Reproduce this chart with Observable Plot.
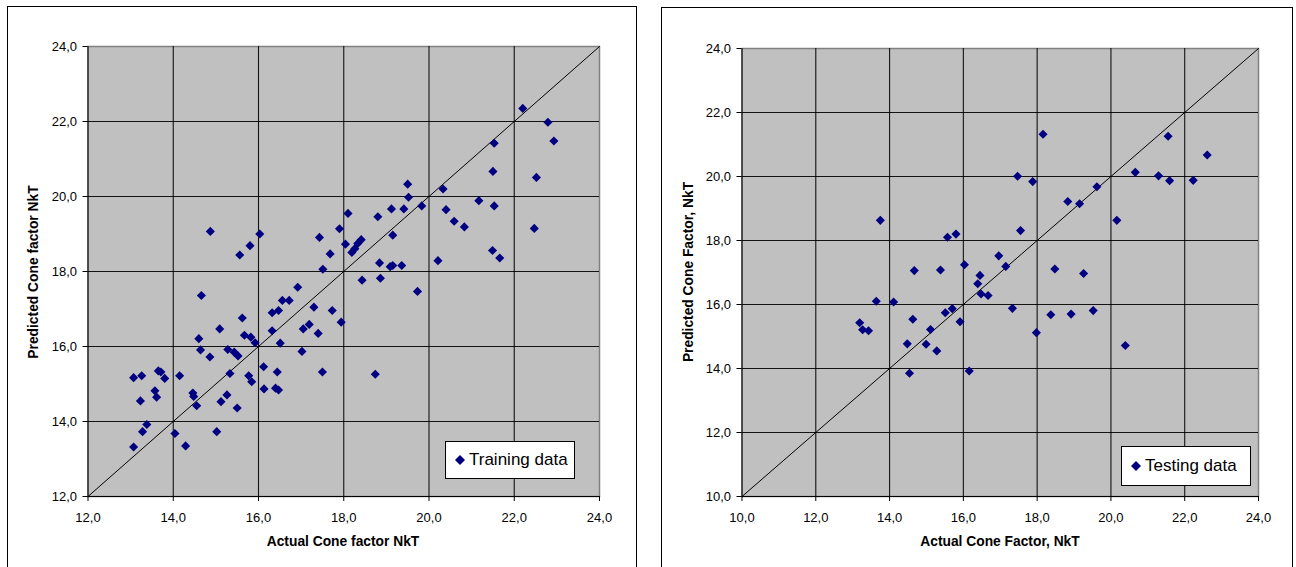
<!DOCTYPE html>
<html>
<head>
<meta charset="utf-8">
<script src="https://cdn.jsdelivr.net/npm/d3@7"></script>
<script src="https://cdn.jsdelivr.net/npm/@observablehq/plot@0.6"></script>
<style>
  html, body { margin: 0; padding: 0; background: #fff; }
  #root { position: relative; width: 1296px; height: 567px; overflow: hidden; background: #fff;
          font-family: "Liberation Sans", Arial, sans-serif; color: #000; }
  .frame { position: absolute; border: 1px solid #000; box-sizing: border-box; }
  .chart { position: absolute; top: 0; }
  .xtitle, .ytitle { position: absolute; font-weight: bold; font-size: 13.8px; white-space: nowrap; }
  .xtitle { transform: translate(-50%, -50%); }
  .ytitle { transform: translate(-50%, -50%) rotate(-90deg); }
  .legend { position: absolute; background: #fff; border: 1px solid #000; box-sizing: border-box;
            font-size: 17px; display: flex; align-items: center; }
  .legend svg { margin-left: 9px; margin-right: 4px; }
</style>
</head>
<body>
<div id="root">
  <div class="frame" style="left:7px; top:6px; width:630px; height:620px;"></div>
  <div class="frame" style="left:661px; top:7px; width:632px; height:620px;"></div>
  <div id="left" class="chart" style="left:0px;"></div>
  <div id="right" class="chart" style="left:648px;"></div>
  <div class="xtitle" style="left:343px; top:541px;">Actual Cone factor NkT</div>
  <div class="ytitle" style="left:33px; top:272px;">Predicted Cone factor NkT</div>
  <div class="xtitle" style="left:1000px; top:541px;">Actual Cone Factor, NkT</div>
  <div class="ytitle" style="left:688px; top:272px;">Predicted Cone Factor, NkT</div>
  <div class="legend" style="left:445px; top:441px; width:130px; height:38px;">
    <svg width="10" height="10"><polygon points="5,0 10,5 5,10 0,5" fill="#000080"/></svg><span>Training data</span>
  </div>
  <div class="legend" style="left:1121px; top:446px; width:130px; height:40px;">
    <svg width="10" height="10"><polygon points="5,0 10,5 5,10 0,5" fill="#000080"/></svg><span>Testing data</span>
  </div>
</div>
<script>
// ---- Training data (actual, predicted) ----
const trainActual = [
  13.07, 13.07, 13.26, 13.23, 13.28, 13.38, 13.57, 13.61, 13.65, 13.71,
  13.80, 14.04, 14.15, 14.29, 14.46, 14.48, 14.55, 14.60, 14.64, 14.66,
  14.86, 14.87, 15.02, 15.09, 15.12, 15.26, 15.28, 15.33, 15.43, 15.50,
  15.52, 15.56, 15.62, 15.67, 15.77, 15.80, 15.82, 15.84, 15.92, 16.03,
  16.12, 16.13, 16.32, 16.32, 16.40, 16.44, 16.47, 16.47, 16.51, 16.56,
  16.72, 16.92, 17.02, 17.05, 17.19, 17.30, 17.40, 17.43, 17.50, 17.51,
  17.68, 17.73, 17.90, 17.94, 18.04, 18.10, 18.19, 18.26, 18.33, 18.41,
  18.43, 18.74, 18.80, 18.84, 18.86, 19.09, 19.12, 19.15, 19.15, 19.36,
  19.41, 19.50, 19.52, 19.73, 19.83, 20.21, 20.33, 20.40, 20.59, 20.83,
  21.17, 21.49, 21.50, 21.53, 21.53, 21.66, 22.20, 22.47, 22.52, 22.79,
  22.93
];
const trainPredicted = [
  13.32, 15.17, 15.22, 14.55, 13.73, 13.92, 14.82, 14.65, 15.35, 15.32,
  15.15, 13.68, 15.22, 13.35, 14.76, 14.67, 14.42, 16.21, 15.91, 17.36,
  15.72, 19.07, 13.73, 16.47, 14.53, 14.71, 15.92, 15.28, 15.85, 14.36,
  15.75, 18.44, 16.76, 16.30, 15.22, 18.69, 16.25, 15.06, 16.10, 19.00,
  15.46, 14.87, 16.42, 16.90, 14.89, 15.32, 14.84, 16.96, 16.09, 17.23,
  17.23, 17.58, 15.87, 16.47, 16.59, 17.05, 16.35, 18.91, 15.32, 18.06,
  18.47, 16.96, 19.14, 16.65, 18.73, 19.55, 18.51, 18.61, 18.75, 18.85,
  17.77, 15.26, 19.46, 18.23, 17.82, 18.13, 19.67, 18.16, 18.97, 18.16,
  19.67, 20.33, 19.98, 17.47, 19.75, 18.29, 20.20, 19.65, 19.34, 19.19,
  19.89, 18.56, 20.67, 21.42, 19.75, 18.36, 22.35, 19.15, 20.51, 21.98,
  21.48
];

// ---- Testing data (actual, predicted) ----
const testActual = [
  13.19, 13.27, 13.43, 13.64, 13.75, 14.11, 14.48, 14.54, 14.63, 14.67,
  14.99, 15.11, 15.28, 15.38, 15.51, 15.57, 15.70, 15.80, 15.91, 16.03,
  16.16, 16.39, 16.45, 16.48, 16.67, 16.96, 17.15, 17.33, 17.47, 17.55,
  17.88, 17.98, 18.16, 18.37, 18.48, 18.83, 18.92, 19.15, 19.26, 19.52,
  19.62, 20.16, 20.39, 20.66, 21.29, 21.55, 21.59, 22.23, 22.61
];
const testPredicted = [
  15.43, 15.21, 15.18, 16.10, 18.63, 16.08, 14.77, 13.85, 15.54, 17.06,
  14.76, 15.22, 14.55, 17.08, 15.74, 18.10, 15.87, 18.20, 15.46, 17.24,
  13.92, 16.65, 16.91, 16.33, 16.28, 17.52, 17.19, 15.88, 20.01, 18.31,
  19.84, 15.12, 21.32, 15.68, 17.11, 19.22, 15.70, 19.15, 16.97, 15.81,
  19.68, 18.63, 14.72, 20.13, 20.02, 21.26, 19.87, 19.88, 20.67
];

// ---- Axis ticks and 1:1 lines ----
const trainTicks = [12, 14, 16, 18, 20, 22, 24];
const testTicks = [10, 12, 14, 16, 18, 20, 22, 24];
const trainDiagonal = [12, 24];
const testDiagonal = [10, 24];

const fmt = d => d.toFixed(1).replace(".", ",");

function panel({actual, predicted, ticks, diagonal, marginLeft, marginRight, marginTop}) {
  const pts = actual.map((a, i) => ({a, p: predicted[i]}));
  const lo = ticks[0], hi = ticks[ticks.length - 1];
  const inner = ticks.slice(1, -1);
  return Plot.plot({
    width: 648,
    height: 567,
    marginLeft, marginRight, marginTop, marginBottom: 71,
    x: {domain: [lo, hi], label: null},
    y: {domain: [lo, hi], label: null},
    style: {fontFamily: '"Liberation Sans", Arial, sans-serif', fontSize: "13px", color: "#000", background: "transparent", overflow: "visible"},
    marks: [
      Plot.frame({fill: "#C0C0C0", stroke: "#808080", strokeWidth: 1.5}),
      Plot.gridX(inner, {stroke: "#000", strokeOpacity: 0.9, strokeWidth: 1.1}),
      Plot.gridY(inner, {stroke: "#000", strokeOpacity: 0.9, strokeWidth: 1.1}),
      Plot.line(diagonal.map(d => ({a: d, p: d})), {x: "a", y: "p", stroke: "#000", strokeWidth: 1}),
      Plot.dot(pts, {x: "a", y: "p", symbol: "diamond2", r: 4.1, fill: "#000080", stroke: "none"}),
      Plot.ruleX([lo], {stroke: "#000", strokeWidth: 1}),
      Plot.ruleY([lo], {stroke: "#000", strokeWidth: 1}),
      Plot.axisX(ticks, {tickSize: 5, tickPadding: 11, tickFormat: fmt, label: null, stroke: "#000", fontSize: 13}),
      Plot.axisY(ticks, {tickSize: 5, tickPadding: 6, tickFormat: fmt, label: null, stroke: "#000", fontSize: 13})
    ]
  });
}

document.getElementById("left").appendChild(panel({
  actual: trainActual, predicted: trainPredicted, ticks: trainTicks, diagonal: trainDiagonal,
  marginLeft: 87.5, marginRight: 49, marginTop: 46
}));
document.getElementById("right").appendChild(panel({
  actual: testActual, predicted: testPredicted, ticks: testTicks, diagonal: testDiagonal,
  marginLeft: 93.5, marginRight: 38, marginTop: 48
}));
</script>
</body>
</html>
